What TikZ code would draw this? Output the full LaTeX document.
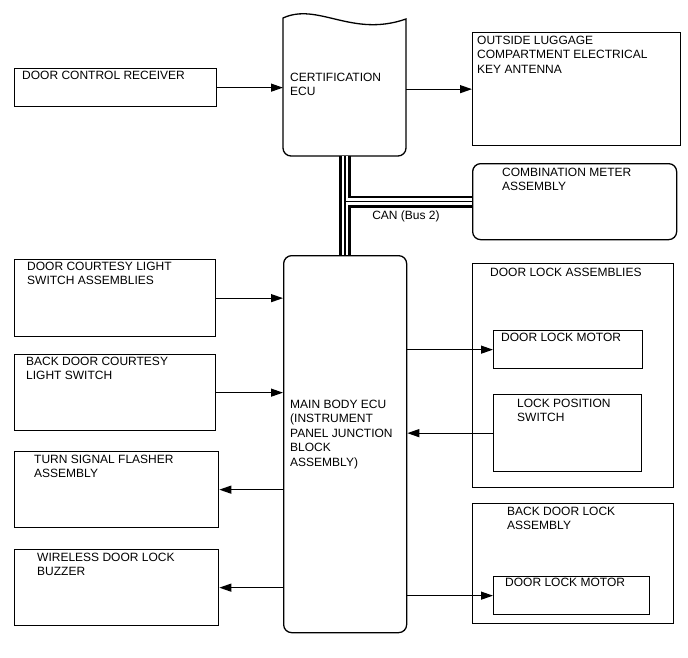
\documentclass[tikz,border=0pt]{standalone}
\usepackage{fontspec}
\setmainfont{Liberation Sans}
\usetikzlibrary{arrows.meta}
\begin{document}
\begin{tikzpicture}[x=1pt,y=-1pt,
  box/.style={draw, line width=1.3pt, inner sep=0, anchor=north west},
  ghost/.style={inner sep=0, anchor=north west},
  lbl/.style={anchor=north west, inner sep=0, align=left, font=\fontsize{12}{14.4}\selectfont},
  arr/.style={line width=1.2pt, -{Triangle[length=12pt,width=8pt]}},
  busA/.style={line width=12pt, black},
  busB/.style={line width=6.5pt, white},
  busC/.style={line width=1.5pt, black}]
\useasboundingbox (0,0) rectangle (688,658);
% boxes
\node[box, minimum width=202pt, minimum height=38pt] (dcr) at (14,68) {};
\node[ghost, minimum width=123pt, minimum height=139pt] (cert) at (283,17) {};
\node[box, minimum width=208pt, minimum height=113pt] (lug) at (472,32) {};
\node[box, rounded corners=8pt, minimum width=204pt, minimum height=76pt] (combo) at (472,163) {};
\node[box, rounded corners=8pt, minimum width=123pt, minimum height=377pt] (main) at (283,255) {};
\node[box, minimum width=201pt, minimum height=77pt] (dcl) at (14,259) {};
\node[box, minimum width=201pt, minimum height=76pt] (bdc) at (14,354) {};
\node[box, minimum width=204pt, minimum height=76pt] (tsf) at (14,451) {};
\node[box, minimum width=204pt, minimum height=76pt] (wdl) at (14,549) {};
\node[box, minimum width=201pt, minimum height=224pt] (dla) at (472,263) {};
\node[box, minimum width=149pt, minimum height=38pt] (dlm) at (493,330) {};
\node[box, minimum width=148pt, minimum height=77pt] (lps) at (493,394) {};
\node[box, minimum width=201pt, minimum height=120pt] (bdl) at (472,503) {};
\node[box, minimum width=156pt, minimum height=38pt] (dlm2) at (493,576) {};
% certification ECU shape
\draw[line width=1.3pt] (283,18) .. controls (318,2) and (352,38) .. (406,19)
  [rounded corners=8pt] -- (406,156) -- (283,156) -- (283,60) [sharp corners] -- cycle;
% labels
\node[lbl] (t-dcr) at (22,71) {DOOR CONTROL RECEIVER};
\node[lbl] (t-cert) at (290,73) {CERTIFICATION\\ECU};
\node[lbl] (t-lug) at (477,36) {OUTSIDE LUGGAGE\\COMPARTMENT ELECTRICAL\\KEY ANTENNA};
\node[lbl] (t-combo) at (502,168) {COMBINATION METER\\ASSEMBLY};
\node[lbl] (t-main) at (290,400) {MAIN BODY ECU\\(INSTRUMENT\\PANEL JUNCTION\\BLOCK\\ASSEMBLY)};
\node[lbl] (t-dcl) at (27,262) {DOOR COURTESY LIGHT\\SWITCH ASSEMBLIES};
\node[lbl] (t-bdc) at (26,357) {BACK DOOR COURTESY\\LIGHT SWITCH};
\node[lbl] (t-tsf) at (34,455) {TURN SIGNAL FLASHER\\ASSEMBLY};
\node[lbl] (t-wdl) at (37,553) {WIRELESS DOOR LOCK\\BUZZER};
\node[lbl] (t-dla) at (490,268) {DOOR LOCK ASSEMBLIES};
\node[lbl] (t-dlm) at (501,333) {DOOR LOCK MOTOR};
\node[lbl] (t-lps) at (517,399) {LOCK POSITION\\SWITCH};
\node[lbl] (t-bdl) at (507,507) {BACK DOOR LOCK\\ASSEMBLY};
\node[lbl] (t-dlm2) at (505,578) {DOOR LOCK MOTOR};
\node[inner sep=0, font=\fontsize{12}{14.4}\selectfont] (t-can) at (406,216) {CAN (Bus 2)};
% CAN bus
\coordinate (bj) at (345,201.5);
\foreach \s in {busA,busB,busC}{
  \draw[\s] (cert.south -| bj) -- (main.north -| bj);
  \draw[\s] (bj) -- (combo.west |- bj);
}
% arrows
\draw[arr] (dcr.east) -- (dcr.east -| cert.west);
\draw[arr] (cert.east |- lug.west) -- (lug.west);
\draw[arr] (dcl.east) -- (dcl.east -| main.west);
\draw[arr] (bdc.east) -- (bdc.east -| main.west);
\draw[arr] (main.west |- tsf.east) -- (tsf.east);
\draw[arr] (main.west |- wdl.east) -- (wdl.east);
\draw[arr] (main.east |- dlm.west) -- (dlm.west);
\draw[arr] (lps.west) -- (lps.west -| main.east);
\draw[arr] (main.east |- dlm2.west) -- (dlm2.west);
\end{tikzpicture}
\end{document}
